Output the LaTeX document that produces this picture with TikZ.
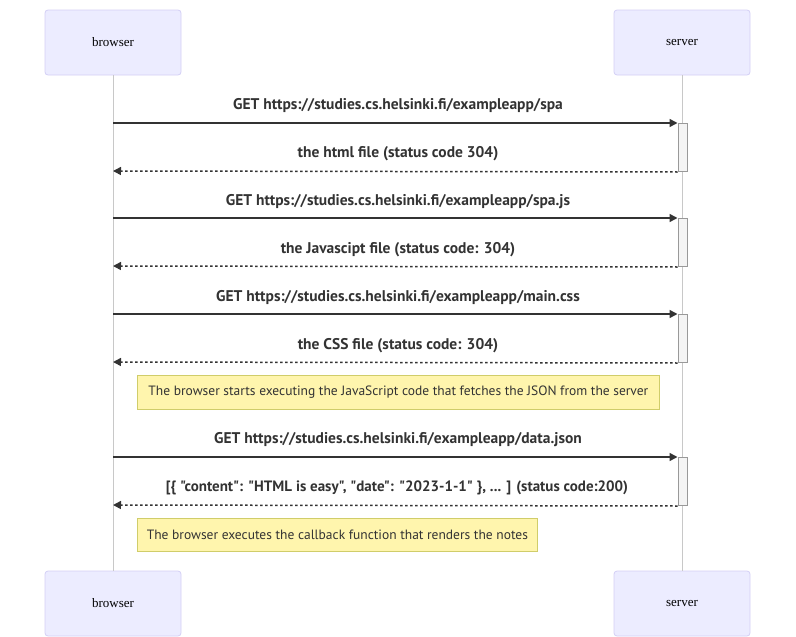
\documentclass[tikz,border=0pt]{standalone}
\usepackage{fontspec}
\setmainfont{Liberation Serif}
\newfontfamily\msgfont{PT Sans}
\usetikzlibrary{arrows.meta}
\definecolor{actfill}{HTML}{ECECFF}
\definecolor{actdraw}{HTML}{D4CFF5}
\definecolor{lifec}{HTML}{C8C8C8}
\definecolor{txt}{HTML}{333333}
\definecolor{notefill}{HTML}{FFF5AD}
\definecolor{notedraw}{HTML}{D0CD6A}
\definecolor{actvfill}{HTML}{F4F4F4}
\definecolor{actvdraw}{HTML}{999999}
\tikzset{
  actor/.style={draw=actdraw, fill=actfill, rounded corners=3pt, line width=0.8pt,
    minimum width=136pt, minimum height=65pt, inner sep=0pt,
    font=\fontsize{13}{15}\selectfont, text=black},
  lifeline/.style={draw=lifec, line width=0.8pt},
  msg/.style={draw=txt, line width=1.5pt, -{Triangle[length=8pt,width=8pt]}},
  ret/.style={draw=txt, line width=1.5pt, dash pattern=on 2.5pt off 2.5pt, -{Triangle[length=8pt,width=8pt]}},
  lbl/.style={font=\msgfont\bfseries\fontsize{15.5}{18}\selectfont, text=txt, inner sep=0pt},
  actv/.style={draw=actvdraw, fill=actvfill, line width=1pt, minimum width=9pt, inner sep=0pt, anchor=north},
  note/.style={draw=notedraw, fill=notefill, line width=0.8pt, inner sep=0pt, anchor=north west},
  notetext/.style={font=\msgfont\fontsize{13.5}{16}\selectfont, text=txt, inner sep=0pt},
}
\begin{document}
\begin{tikzpicture}[x=1pt,y=-1pt]
\useasboundingbox (0,0) rectangle (796,637);
% actors
\node[actor] (bt) at (113,42.5) {browser};
\node[actor] (st) at (682,42.5) {server};
\node[actor] (bb) at (113,603.5) {browser};
\node[actor] (sb) at (682,603.5) {server};
\draw[lifeline] (bt.south) -- (bb.north);
\draw[lifeline] (st.south) -- (sb.north);
% activations
\node[actv, minimum height=48pt] (a1) at (682.5,123) {};
\node[actv, minimum height=48pt] (a2) at (682.5,218) {};
\node[actv, minimum height=48pt] (a3) at (682.5,314) {};
\node[actv, minimum height=48pt] (a4) at (682.5,457) {};
% coordinates on browser lifeline
\coordinate (b1) at (113,123);
\coordinate (b2) at (113,171);
\coordinate (b3) at (113,218);
\coordinate (b4) at (113,266);
\coordinate (b5) at (113,314);
\coordinate (b6) at (113,362);
\coordinate (b7) at (113,457);
\coordinate (b8) at (113,505);
% messages
\draw[msg] (b1) -- (a1.north west);
\node[lbl] (l1) at (398,105.5) {GET https://studies.cs.helsinki.fi/exampleapp/spa};
\draw[ret] (a1.south west) -- (b2);
\node[lbl] (l2) at (398,153.5) {the html file (status code 304)};
\draw[msg] (b3) -- (a2.north west);
\node[lbl] (l3) at (398,201.5) {GET https://studies.cs.helsinki.fi/exampleapp/spa.js};
\draw[ret] (a2.south west) -- (b4);
\node[lbl] (l4) at (398,249.5) {the Javascipt file (status code: 304)};
\draw[msg] (b5) -- (a3.north west);
\node[lbl] (l5) at (398,297.5) {GET https://studies.cs.helsinki.fi/exampleapp/main.css};
\draw[ret] (a3.south west) -- (b6);
\node[lbl] (l6) at (398,345.5) {the CSS file (status code: 304)};
% note 1
\node[note, minimum width=522pt, minimum height=34pt] (n1) at (137,375) {};
\node[notetext] (n1t) at (n1.center) {The browser starts executing the JavaScript code that fetches the JSON from the server};
\draw[msg] (b7) -- (a4.north west);
\node[lbl] (l7) at (398,439.5) {GET https://studies.cs.helsinki.fi/exampleapp/data.json};
\draw[ret] (a4.south west) -- (b8);
\node[lbl, font=\msgfont\bfseries\fontsize{15}{18}\selectfont] (l8) at (397,487.5) {[\{ "content": "HTML is easy", "date": "2023-1-1" \}, ... ] (status code:200)};
% note 2
\node[note, minimum width=400pt, minimum height=33pt] (n2) at (137,518) {};
\node[notetext] (n2t) at (n2.center) {The browser executes the callback function that renders the notes};
\end{tikzpicture}
\end{document}
